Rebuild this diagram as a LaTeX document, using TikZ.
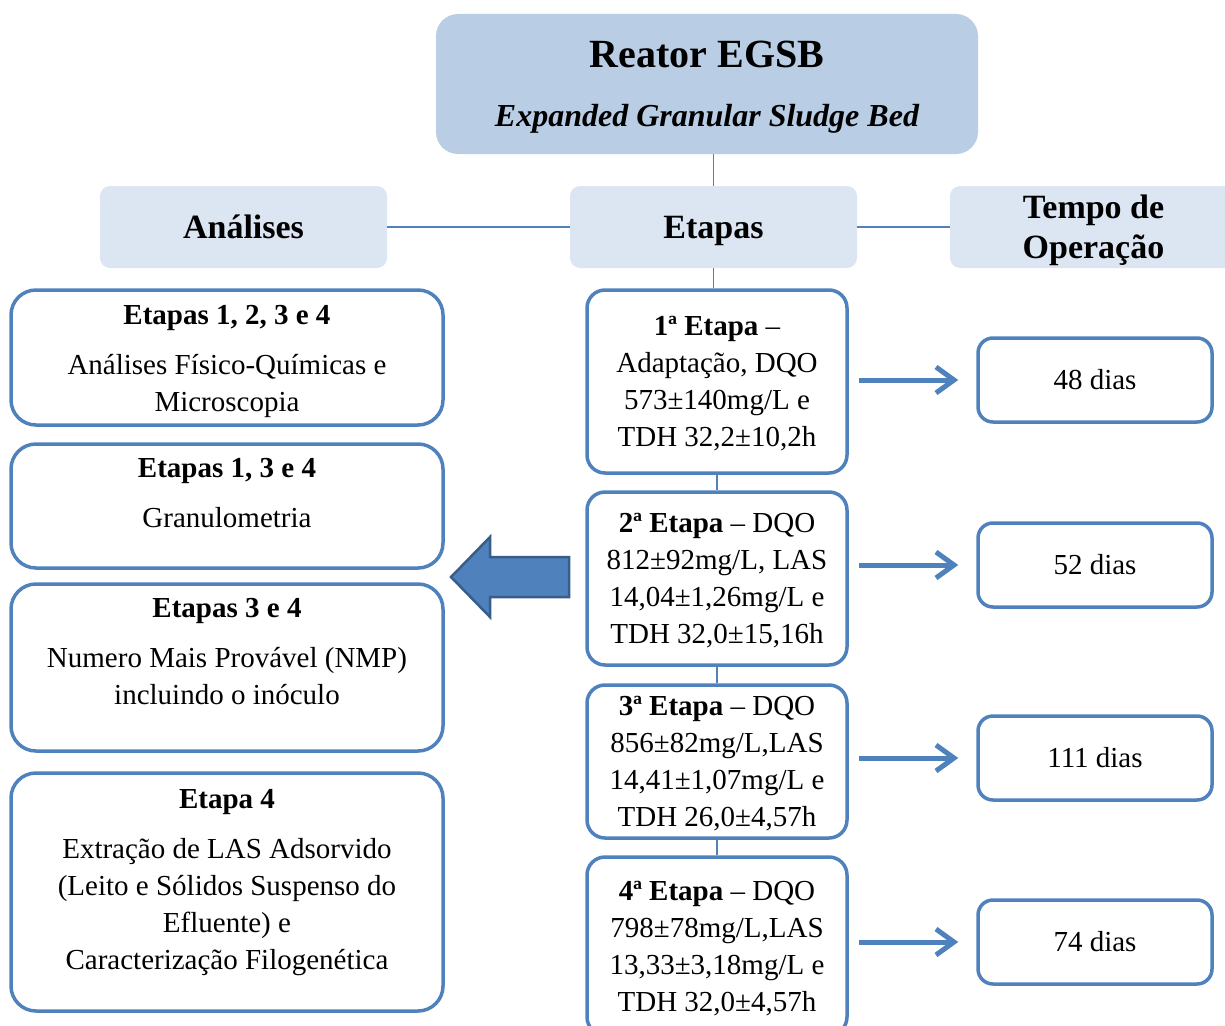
\documentclass[tikz,border=0pt]{standalone}
\usepackage{fontspec}
\setmainfont{Liberation Serif}
\usetikzlibrary{positioning, arrows.meta}

\definecolor{topfill}{HTML}{B9CDE5}
\definecolor{headfill}{HTML}{DCE6F2}
\definecolor{rimblue}{HTML}{4F81BD}
\definecolor{rimdark}{HTML}{385D8A}

\newcommand{\txtbody}{\fontsize{29}{37}\selectfont}
\newcommand{\txthead}{\fontsize{34}{40}\selectfont\bfseries}

\tikzset{
  topbox/.style={fill=topfill, rounded corners=22pt, minimum width=542, minimum height=140, align=center, inner sep=0pt,
                 text depth=0pt, font=\fontsize{32}{38}\selectfont\bfseries\itshape},
  header/.style={fill=headfill, rounded corners=10pt, minimum width=287, minimum height=82, align=center, inner sep=0pt,
                 text depth=0pt, font=\txthead},
  stagebox/.style={draw=rimblue, line width=3.5pt, fill=white, rounded corners=18pt, minimum width=260, align=center, inner sep=0pt,
                   text depth=0pt, font=\txtbody},
  timebox/.style={draw=rimblue, line width=3.5pt, rounded corners=15pt, minimum width=234, minimum height=84, inner sep=0pt, font=\txtbody},
  anbox/.style={draw=rimblue, line width=3.5pt, rounded corners=25pt, minimum width=432},
  antext/.style={align=center, inner sep=0pt, font=\txtbody},
  link/.style={draw=rimblue, line width=1.2pt},
  flow/.style={draw=rimblue, line width=5pt, -{Straight Barb[length=18pt,width=26pt]}, shorten <=10pt, shorten >=18pt},
  bigarrow/.style={fill=rimblue, draw=rimdark, line width=2.5pt, line join=miter}
}

\begin{document}
\begin{tikzpicture}[x=1pt, y=-1pt]
  \useasboundingbox (0,0) rectangle (1225,1025);

  % --- Reactor title block ---
  \node[topbox] (reator) at (707,84)
    {{\fontsize{40}{46}\selectfont\upshape Reator EGSB}\\[21pt]
     Expanded Granular Sludge Bed};

  % --- Column headers ---
  \node[header, text height=23pt] (anal) at (243.5,227) {Análises};
  \node[header, text height=23pt] (etap) at (713.5,227) {Etapas};
  \node[header] (tempo) at (1093.5,227) {Tempo de\\Operação};

  \draw[link] (reator.south -| etap.north) -- (etap.north);
  \draw[link] (anal.east) -- (etap.west);
  \draw[link] (etap.east) -- (tempo.west);

  % --- Stages (middle column) ---
  \node[stagebox, minimum height=183] (s1) at (717,381.5)
    {\textbf{1ª Etapa} –\\Adaptação, DQO\\573±140mg/L  e\\TDH 32,2±10,2h};
  \node[stagebox, minimum height=173] (s2) at (717,578.5)
    {\textbf{2ª Etapa} – DQO\\812±92mg/L, LAS\\14,04±1,26mg/L e\\TDH 32,0±15,16h};
  \node[stagebox, minimum height=153] (s3) at (717,761.5)
    {\textbf{3ª Etapa} – DQO\\856±82mg/L,LAS\\14,41±1,07mg/L  e\\TDH 26,0±4,57h};
  \node[stagebox, minimum height=178] (s4) at (717,946)
    {\textbf{4ª Etapa} – DQO\\798±78mg/L,LAS\\13,33±3,18mg/L  e\\TDH 32,0±4,57h};

  \draw[link] (etap.south) -- (etap.south |- s1.north);
  \draw[link] (s1.south) -- (s2.north);
  \draw[link] (s2.south) -- (s3.north);
  \draw[link] (s3.south) -- (s4.north);

  % --- Operating time (right column) ---
  \node[timebox] (t1) at (1095,380) {48 dias};
  \node[timebox] (t2) at (1095,565) {52 dias};
  \node[timebox] (t3) at (1095,758) {111 dias};
  \node[timebox] (t4) at (1095,942) {74 dias};

  \draw[flow] (t1.west -| s1.east) -- (t1.west);
  \draw[flow] (t2.west -| s2.east) -- (t2.west);
  \draw[flow] (t3.west -| s3.east) -- (t3.west);
  \draw[flow] (t4.west -| s4.east) -- (t4.west);

  % --- Analyses (left column) ---
  \node[anbox, minimum height=135] (a1) at (227,357.5) {};
  \node[anbox, minimum height=124] (a2) at (227,506)   {};
  \node[anbox, minimum height=167] (a3) at (227,667.5) {};
  \node[anbox, minimum height=238] (a4) at (227,892)   {};

  \node[antext, below=17pt of a1.north] (a1t)
    {\textbf{Etapas 1, 2, 3 e 4}\\[13pt]Análises Físico-Químicas e\\Microscopia};
  \node[antext, below=16pt of a2.north] (a2t)
    {\textbf{Etapas 1, 3 e 4}\\[13pt]Granulometria};
  \node[antext, below=16pt of a3.north] (a3t)
    {\textbf{Etapas 3 e 4}\\[13pt]Numero Mais Provável (NMP)\\incluindo o inóculo};
  \node[antext, below=18pt of a4.north] (a4t)
    {\textbf{Etapa 4}\\[13pt]Extração de LAS Adsorvido\\(Leito e Sólidos Suspenso do\\Efluente) e\\Caracterização Filogenética};

  % --- Block arrow pointing to the analyses ---
  \coordinate (bigtip) at (451,577);
  \draw[bigarrow] (bigtip) -- ++(39,-40) -- ++(0,20) -- ++(79,0) -- ++(0,40)
                  -- ++(-79,0) -- ++(0,20) -- cycle;

\end{tikzpicture}
\end{document}
